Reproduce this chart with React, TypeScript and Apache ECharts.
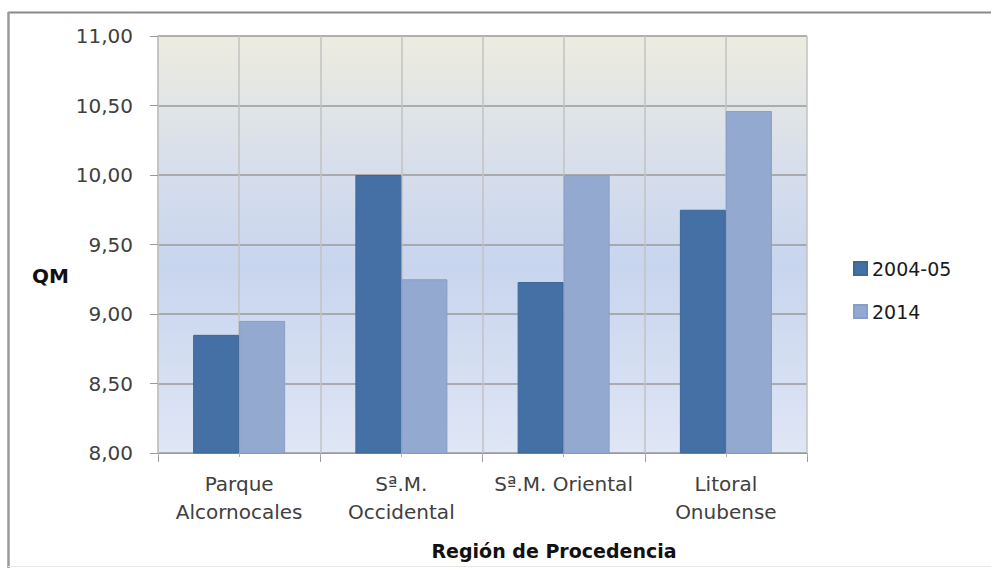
import React, { useEffect, useRef } from "react";
import * as echarts from "echarts";

const categories = ["Parque\nAlcornocales", "Sª.M.\nOccidental", "Sª.M. Oriental", "Litoral\nOnubense"];
const halfSlots = ["a", "b", "c", "d", "e", "f", "g", "h"];
const seriesNames = ["2004-05", "2014"];
const values2004 = [8.85, 10.0, 9.23, 9.75];
const values2014 = [8.95, 9.25, 10.0, 10.46];
const yAxisTitle = "QM";
const xAxisTitle = "Región de Procedencia";

const FONT = "DejaVu Sans";

export default function App() {
  const ref = useRef<HTMLDivElement>(null);
  useEffect(() => {
    if (!ref.current) return;
    const chart = echarts.init(ref.current, undefined, { renderer: "svg" });
    chart.setOption({
      animation: false,
      backgroundColor: "#ffffff",
      textStyle: { fontFamily: FONT },
      grid: {
        left: 158,
        top: 36,
        right: 184,
        bottom: 115,
        show: true,
        borderWidth: 0,
        backgroundColor: new echarts.graphic.LinearGradient(0, 0, 0, 1, [
          { offset: 0, color: "#edecdf" },
          { offset: 0.3, color: "#d8dfeb" },
          { offset: 0.55, color: "#c8d5ee" },
          { offset: 1, color: "#dfe6f5" },
        ]),
      },
      legend: {
        orient: "vertical",
        left: 848,
        top: 254,
        itemWidth: 13,
        itemHeight: 13,
        itemGap: 24,
        icon: "rect",
        textStyle: { fontFamily: FONT, fontSize: 19, color: "#1a1a1a", lineHeight: 19 },
        data: seriesNames,
      },
      xAxis: [
        {
          type: "category",
          data: categories,
          position: "bottom",
          boundaryGap: true,
          axisLine: { show: true, lineStyle: { color: "#9a9a9a", width: 1 } },
          axisTick: { show: true, length: 9, lineStyle: { color: "#9a9a9a" } },
          axisLabel: {
            fontFamily: FONT,
            fontSize: 20,
            color: "#404040",
            lineHeight: 28,
            margin: 17,
            interval: 0,
          },
          splitLine: { show: false },
        },
        {
          type: "category",
          data: halfSlots,
          position: "bottom",
          boundaryGap: true,
          axisLine: { show: false },
          axisTick: { show: true, length: 4, lineStyle: { color: "#b0b0b0" } },
          axisLabel: { show: false },
          splitLine: { show: true, lineStyle: { color: "#c2c2c2", width: 1.5 } },
        },
      ],
      yAxis: {
        type: "value",
        min: 8,
        max: 11,
        interval: 0.5,
        axisLine: { show: true, lineStyle: { color: "#c2c2c2", width: 1.5 } },
        axisTick: { show: true, length: 8, lineStyle: { color: "#9a9a9a" } },
        axisLabel: {
          fontFamily: FONT,
          fontSize: 20,
          color: "#404040",
          margin: 25,
          formatter: (v: number) => v.toFixed(2).replace(".", ","),
        },
        splitLine: { show: true, lineStyle: { color: "#9a9a9a", width: 1.5 } },
      },
      series: [
        {
          name: seriesNames[0],
          type: "bar",
          xAxisIndex: 0,
          data: values2004,
          barWidth: 46,
          barGap: "0%",
          itemStyle: { color: "#4470a6", borderColor: "#3d6699", borderWidth: 1 },
        },
        {
          name: seriesNames[1],
          type: "bar",
          xAxisIndex: 0,
          data: values2014,
          barWidth: 46,
          barGap: "0%",
          itemStyle: { color: "#93a9d0", borderColor: "#879ec6", borderWidth: 1 },
        },
      ],
      graphic: [
        {
          type: "line",
          shape: { x1: 8, y1: 12.5, x2: 991, y2: 12.5 },
          style: { stroke: "#8a8a8a", lineWidth: 2 },
          silent: true,
        },
        {
          type: "line",
          shape: { x1: 8.5, y1: 12, x2: 8.5, y2: 568 },
          style: { stroke: "#9a9a9a", lineWidth: 2.5 },
          silent: true,
        },
        {
          type: "line",
          shape: { x1: 8, y1: 566.5, x2: 991, y2: 566.5 },
          style: { stroke: "#e6e6e6", lineWidth: 1 },
          silent: true,
        },
        {
          type: "text",
          left: 32,
          top: 266,
          style: {
            text: yAxisTitle,
            fontFamily: FONT,
            fontSize: 20,
            fontWeight: "bold",
            fill: "#111111",
          },
        },
        {
          type: "text",
          x: 554,
          y: 551,
          style: {
            text: xAxisTitle,
            fontFamily: FONT,
            fontSize: 19,
            fontWeight: "bold",
            fill: "#111111",
            align: "center",
            verticalAlign: "middle",
          },
        },
      ],
    });
    return () => chart.dispose();
  }, []);
  return (
    <div
      ref={ref}
      style={{ position: "fixed", left: 0, top: 0, width: 991, height: 568 }}
    />
  );
}
